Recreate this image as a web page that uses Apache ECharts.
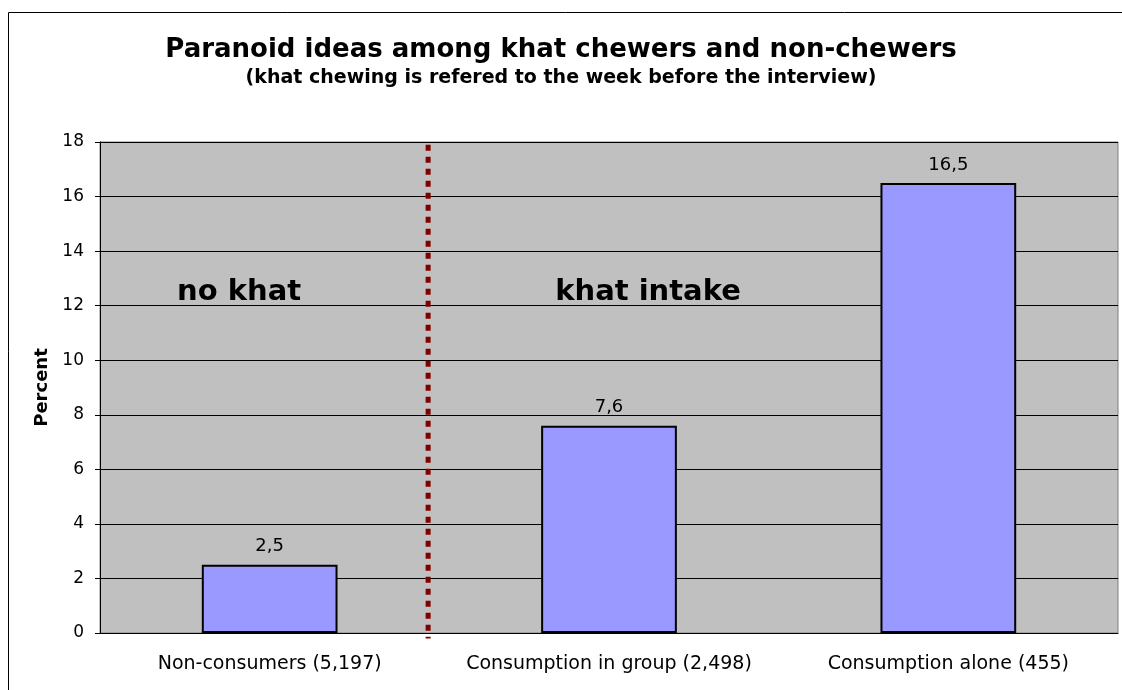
<!DOCTYPE html>
<html lang="en">
<head>
    <meta charset="UTF-8">
    <script src="https://cdn.jsdelivr.net/npm/echarts@6/dist/echarts.min.js"></script>
    <title>Paranoid ideas</title>
    <style>
        html, body { margin: 0; padding: 0; background: #fff; }
    </style>
</head>
<body>

<div id="ec" style="width:1122px;height:690px;"></div>

<script>
    // data
    var categories = ['Non-consumers (5,197)', 'Consumption in group (2,498)', 'Consumption alone (455)'];
    var percent = [2.5, 7.6, 16.5];
    var yTicks = {min: 0, max: 18, step: 2};

    // dotted divider between "no khat" and "khat intake" (x on a 0..3 hidden scale)
    var dividerX = [0.967, 0.967];
    var dividerY = [17.9, -0.2];

    // group labels
    var groupNames = ['no khat', 'khat intake'];
    var groupX = [0.41, 1.615];
    var groupY = [12.5, 12.5];

    var chart = echarts.init(document.getElementById('ec'));

    chart.setOption({
        animation: false,
        backgroundColor: '#fff',
        title: {
            text: 'Paranoid ideas among khat chewers and non-chewers',
            subtext: '(khat chewing is refered to the week before the interview)',
            left: 'center',
            top: 32,
            itemGap: 6,
            textStyle: {
                fontFamily: 'DejaVu Sans',
                fontWeight: 'bold',
                fontSize: 26,
                color: '#000'
            },
            subtextStyle: {
                fontFamily: 'DejaVu Sans',
                fontWeight: 'bold',
                fontSize: 19,
                color: '#000'
            }
        },
        graphic: [{
            type: 'rect',
            silent: true,
            shape: {x: 8.5, y: 12.5, width: 1300, height: 800},
            style: {fill: 'none', stroke: '#000', lineWidth: 1}
        }],
        grid: {
            left: 100, top: 142, right: 4, bottom: 57,
            show: true,
            backgroundColor: '#c0c0c0',
            borderColor: '#808080',
            borderWidth: 1
        },
        xAxis: [{
            type: 'category',
            data: categories,
            axisLine: {lineStyle: {color: '#000'}},
            axisTick: {length: 5, lineStyle: {color: '#000'}},
            axisLabel: {
                interval: 0,
                hideOverlap: false,
                margin: 22,
                fontFamily: 'DejaVu Sans',
                fontSize: 19,
                color: '#000'
            },
            splitLine: {show: false}
        }, {
            type: 'value',
            min: 0, max: 3,
            show: false
        }],
        yAxis: {
            type: 'value',
            min: yTicks.min,
            max: yTicks.max,
            interval: yTicks.step,
            name: 'Percent',
            nameLocation: 'middle',
            nameRotate: 90,
            nameGap: 44,
            nameTextStyle: {
                fontFamily: 'DejaVu Sans',
                fontWeight: 'bold',
                fontSize: 18,
                color: '#000'
            },
            axisLine: {show: true, lineStyle: {color: '#000'}},
            axisTick: {show: true, length: 5, lineStyle: {color: '#000'}},
            axisLabel: {
                margin: 16,
                fontFamily: 'DejaVu Sans',
                fontSize: 17,
                color: '#000'
            },
            splitLine: {lineStyle: {color: '#000', width: 1}}
        },
        series: [{
            type: 'bar',
            data: percent,
            barWidth: '40%',
            itemStyle: {color: '#9999ff', borderColor: '#000', borderWidth: 2},
            label: {
                show: true,
                position: 'top',
                distance: 9,
                fontFamily: 'DejaVu Sans',
                fontSize: 18,
                color: '#000',
                formatter: function (p) {
                    return String(p.value).replace('.', ',');
                }
            }
        }, {
            type: 'line',
            xAxisIndex: 1,
            clip: false,
            symbol: 'none',
            data: dividerX.map(function (x, i) { return [x, dividerY[i]]; }),
            lineStyle: {color: '#800000', width: 5, type: [6, 6], cap: 'butt'}
        }, {
            type: 'scatter',
            xAxisIndex: 1,
            symbolSize: 0,
            itemStyle: {opacity: 1},
            data: groupX.map(function (x, i) { return [x, groupY[i], groupNames[i]]; }),
            label: {
                show: true,
                position: 'inside',
                formatter: function (p) { return p.value[2]; },
                fontFamily: 'DejaVu Sans',
                fontWeight: 'bold',
                fontSize: 29,
                color: '#000'
            }
        }]
    });
</script>

</body>
</html>
